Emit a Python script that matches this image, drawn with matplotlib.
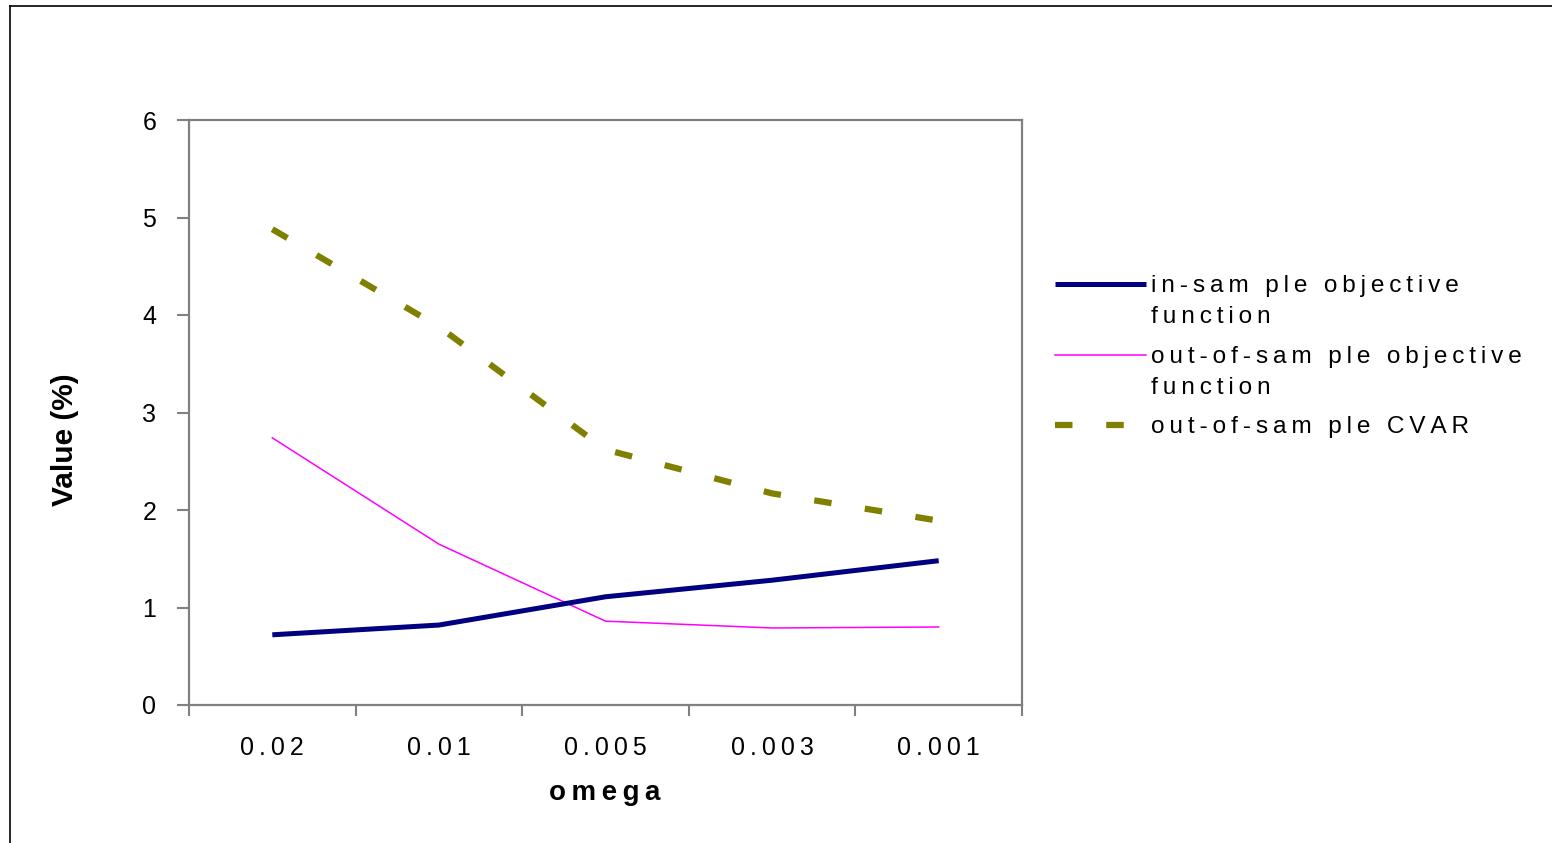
import matplotlib
matplotlib.use("Agg")
import matplotlib.pyplot as plt
from matplotlib.lines import Line2D

plt.rcParams["font.family"] = ["Liberation Sans", "DejaVu Sans"]

# data
omega = ["0.02", "0.01", "0.005", "0.003", "0.001"]
in_sample_obj = [0.72, 0.82, 1.11, 1.28, 1.48]
out_sample_obj = [2.74, 1.65, 0.86, 0.79, 0.80]
out_sample_cvar = [4.88, 3.88, 2.62, 2.17, 1.89]

series_labels = [
    "in-sam ple objective\nfunction",
    "out-of-sam ple objective\nfunction",
    "out-of-sam ple CVAR",
]

NAVY = "#000080"
PINK = "#FF00FF"
OLIVE = "#808000"
GRAY = "#808080"
THIN = "\u2009"


def spaced(s):
    """Excel-style letter spacing: thin space between characters."""
    return "\n".join(THIN.join(ch for ch in line) for line in s.split("\n"))


W, H = 1552, 843
fig = plt.figure(figsize=(W / 100, H / 100), dpi=100)
ax = fig.add_axes([189 / W, 1 - 705 / H, (1022 - 189) / W, (705 - 120) / H])

x = list(range(len(omega)))
ax.plot(x, out_sample_cvar, color=OLIVE, lw=4.5, dashes=(2.8, 5.4),
        dash_capstyle="butt", zorder=2)
ax.plot(x, out_sample_obj, color=PINK, lw=1.1, zorder=3)
ax.plot(x, in_sample_obj, color=NAVY, lw=3.6, solid_capstyle="butt", zorder=4)

ax.set_xlim(-0.5, len(omega) - 0.5)
ax.set_ylim(0, 6)
ax.set_yticks(range(0, 7))

# ticks at category boundaries, labels at centres
ax.set_xticks([i - 0.5 for i in range(len(omega) + 1)])
ax.set_xticklabels([])
ax.set_xticks(x, minor=True)
ax.set_xticklabels([spaced(s) for s in omega], minor=True)
ax.tick_params(axis="x", which="major", direction="out", length=8, width=1.5,
               color=GRAY)
ax.tick_params(axis="x", which="minor", length=0, pad=22, labelsize=18)
ax.tick_params(axis="y", direction="out", length=8.5, width=1.5, color=GRAY,
               pad=15, labelsize=18)

for sp in ax.spines.values():
    sp.set_color(GRAY)
    sp.set_linewidth(1.6)

fig.text(605 / W, 1 - 793 / H, spaced("omega"), ha="center", va="center",
         fontsize=20, fontweight="bold")
fig.text(65 / W, 1 - 440 / H, "Value (%)", ha="center", va="center",
         rotation=90, fontsize=21.5, fontweight="bold")

# legend drawn like the Excel one: handle beside the first text line
styles = [
    dict(color=NAVY, lw=3.6, solid_capstyle="butt"),
    dict(color=PINK, lw=1.1),
    dict(color=OLIVE, lw=4.5, dashes=(2.8, 5.4), dash_capstyle="butt"),
]
row_y = [284, 355, 425]
for lab, st, ry in zip(series_labels, styles, row_y):
    yf = 1 - ry / H
    fig.add_artist(Line2D([1055 / W, 1146 / W], [yf, yf],
                          transform=fig.transFigure, **st))
    fig.text(1151 / W, 1 - (ry - 9) / H, spaced(lab), ha="left", va="top",
             fontsize=17.6, linespacing=1.52)

# outer chart border (left and top edges visible)
bx, by = 9.5 / W, 1 - 5.5 / H
fig.add_artist(Line2D([bx, bx], [0, by], transform=fig.transFigure,
                      color="black", lw=1.2))
fig.add_artist(Line2D([bx, 1], [by, by], transform=fig.transFigure,
                      color="black", lw=1.2))

fig.savefig("out.png", dpi=100)
